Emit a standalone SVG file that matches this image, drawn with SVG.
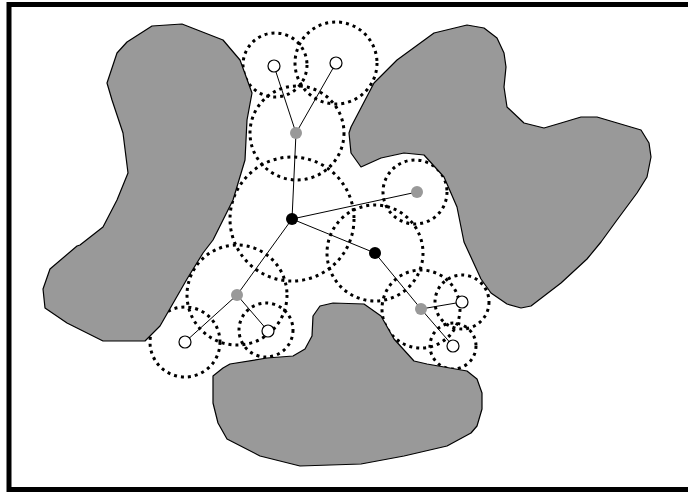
<svg xmlns="http://www.w3.org/2000/svg" width="688" height="492" viewBox="0 0 688 492">
<style>
.obs{fill:#999;stroke:#000;stroke-width:1.2;stroke-linejoin:round}
.ring{fill:none;stroke:#000;stroke-width:3;stroke-dasharray:3 4}
.edge{stroke:#000;stroke-width:1;fill:none}
.w{fill:#fff;stroke:#000;stroke-width:1.2}
.g{fill:#999}
.b{fill:#000}
</style>
<rect x="0" y="0" width="688" height="492" fill="#fff"/>
<g id="rings">
<circle class="ring" cx="275" cy="65" r="32"/>
<circle class="ring" cx="336" cy="63" r="41"/>
<circle class="ring" cx="297" cy="133" r="47"/>
<circle class="ring" cx="292" cy="219" r="62"/>
<circle class="ring" cx="415" cy="192" r="32"/>
<circle class="ring" cx="375" cy="253" r="48"/>
<circle class="ring" cx="237" cy="295" r="50"/>
<circle class="ring" cx="185" cy="342" r="35"/>
<circle class="ring" cx="266" cy="330" r="27"/>
<circle class="ring" cx="421" cy="309" r="39"/>
<circle class="ring" cx="462" cy="302" r="27"/>
<circle class="ring" cx="453" cy="346" r="23"/>
</g>
<g id="obstacles">
<polygon id="obstacle-left" class="obs" points="152,26 182,24 223,40 240,60 252,93 247,120 245,160 233,200 213,240 203,253 187,279 160,326 145,341 103,341 67,323 45,308 43,289 50,269 77,246 80,245 103,227 117,200 128,173 123,133 112,100 107,83 117,53 127,42"/>
<polygon id="obstacle-right" class="obs" points="351,127 374,83 397,60 434,33 467,25 484,28 497,38 504,53 506,67 504,87 507,107 524,123 544,128 561,123 581,117 597,117 641,130 649,143 651,157 647,177 637,193 617,220 601,242 587,259 561,283 531,306 521,308 507,304 491,293 481,279 464,242 457,207 444,177 424,155 404,153 381,158 361,167 351,153 349,133"/>
<polygon id="obstacle-bottom" class="obs" points="313,316 320,306 333,303 364,304 381,316 394,339 414,361 427,364 467,371 477,379 482,393 482,409 477,426 471,433 447,446 404,456 361,464 300,466 260,456 227,439 218,423 213,403 213,376 223,368 230,364 267,358 293,356 305,349 312,336"/>
</g>
<rect id="frame" x="9" y="4.5" width="700" height="485" fill="none" stroke="#000" stroke-width="5"/>
<g id="connectors">
<line class="edge" x1="292" y1="219" x2="296" y2="133"/>
<line class="edge" x1="296" y1="133" x2="274" y2="66"/>
<line class="edge" x1="296" y1="133" x2="336" y2="63"/>
<line class="edge" x1="292" y1="219" x2="417" y2="192"/>
<line class="edge" x1="292" y1="219" x2="375" y2="253"/>
<line class="edge" x1="292" y1="219" x2="237" y2="295"/>
<line class="edge" x1="237" y1="295" x2="185" y2="342"/>
<line class="edge" x1="237" y1="295" x2="268" y2="331"/>
<line class="edge" x1="375" y1="253" x2="421" y2="309"/>
<line class="edge" x1="421" y1="309" x2="462" y2="302"/>
<line class="edge" x1="421" y1="309" x2="453" y2="346"/>
</g>
<g id="node-a"><circle class="b" cx="292" cy="219" r="6"/></g>
<g id="node-b"><circle class="b" cx="375" cy="253" r="6"/></g>
<g id="node-g1"><circle class="g" cx="296" cy="133" r="6"/></g>
<g id="node-g2"><circle class="g" cx="417" cy="192" r="6"/></g>
<g id="node-g3"><circle class="g" cx="237" cy="295" r="6"/></g>
<g id="node-g4"><circle class="g" cx="421" cy="309" r="6"/></g>
<g id="node-w1"><circle class="w" cx="274" cy="66" r="6"/></g>
<g id="node-w2"><circle class="w" cx="336" cy="63" r="6"/></g>
<g id="node-w3"><circle class="w" cx="185" cy="342" r="6"/></g>
<g id="node-w4"><circle class="w" cx="268" cy="331" r="6"/></g>
<g id="node-w5"><circle class="w" cx="462" cy="302" r="6"/></g>
<g id="node-w6"><circle class="w" cx="453" cy="346" r="6"/></g>
</svg>
